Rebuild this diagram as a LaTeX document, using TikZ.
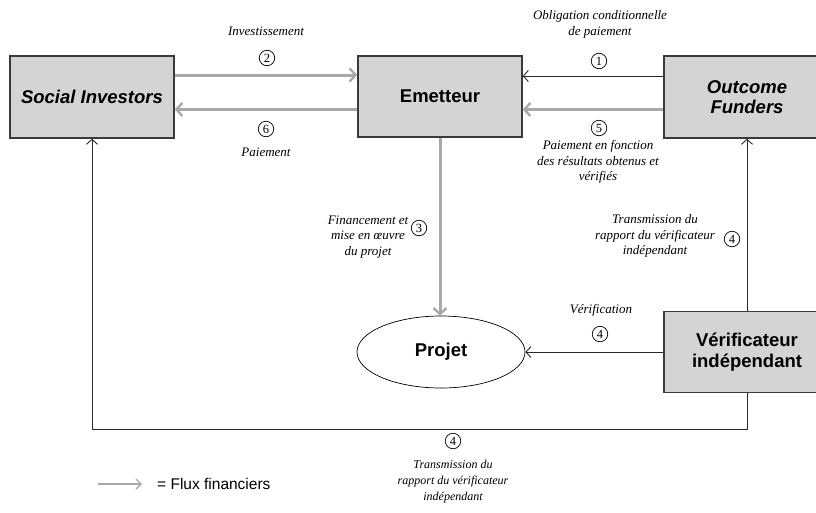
\documentclass[tikz,border=0pt]{standalone}
\usepackage{fontspec}
\setmainfont{Liberation Serif}
\newfontfamily\boxfont{Liberation Sans}
\usetikzlibrary{arrows.meta,shapes.geometric}

\definecolor{boxfill}{HTML}{D4D4D4}
\definecolor{boxline}{HTML}{3A3A3A}
\definecolor{flux}{HTML}{A9A9A9}

\tikzset{
  actor/.style={rectangle, draw=boxline, line width=1.4pt, fill=boxfill,
    minimum width=164pt, minimum height=82pt, align=center, inner sep=0pt,
    font=\boxfont\bfseries\fontsize{18.5}{21}\selectfont},
  actorit/.style={actor, font=\boxfont\bfseries\itshape\fontsize{18.5}{20}\selectfont},
  money/.style={draw=flux, line width=3pt, -{Straight Barb[length=6pt,width=13pt,line width=2.4pt]}},
  info/.style={draw=black!85, line width=0.9pt, -{Straight Barb[length=5pt,width=11pt,line width=0.9pt]}},
  lbl/.style={align=center, inner sep=0pt, font=\itshape\fontsize{13}{15.5}\selectfont},
  lblnarrow/.style={align=center, inner sep=0pt, font=\itshape\fontsize{12}{16}\selectfont},
  circnum/.style={circle, draw, line width=0.7pt, inner sep=0pt, minimum size=15.5pt,
    font=\fontsize{12.5}{12.5}\selectfont},
}

\begin{document}
\begin{tikzpicture}[x=1pt, y=-1pt]
\useasboundingbox (0,0) rectangle (816,512);

% actors
\node[actorit] (si) at (92,97) {Social Investors};
\node[actor, minimum height=81pt] (em) at (440,96.5) {Emetteur};
\node[actorit, minimum width=166pt] (of) at (747,97) {Outcome\\Funders};
\node[actor, minimum width=166pt, minimum height=81pt] (vi) at (747,352) {Vérificateur\\indépendant};
\node[ellipse, draw, line width=0.7pt, minimum width=168pt, minimum height=72pt,
  font=\boxfont\bfseries\fontsize{18.5}{21}\selectfont] (pr) at (441,352) {Projet};

% financial flows
\draw[money] ([yshift=22pt]si.east) -- ([yshift=22pt]si.east -| em.west);
\draw[money] ([yshift=-13pt]em.west) -- ([yshift=-13pt]em.west -| si.east);
\draw[money] ([yshift=-12.5pt]of.west) -- ([yshift=-12.5pt]of.west -| em.east);
\draw[money] (em.south) -- (em.south |- pr.north);

% other flows
\draw[info] ([yshift=21pt]of.west) -- ([yshift=21pt]of.west -| em.east);
\draw[info] (vi.west) -- (pr.east);
\draw[info] (vi.north) -- (of.south);
\coordinate (loopr) at ([yshift=-36pt]vi.south);
\draw[info] (vi.south) -- (loopr) -| (si.south);

% labels
\node[lbl] (t2) at (266,31) {Investissement};
\node[circnum] (n2) at (267,58) {2};
\node[circnum] (n6) at (266,129) {6};
\node[lbl] (t6) at (266,152) {Paiement};

\node[lbl] (t1) at (600,24.5) {Obligation conditionnelle\\de paiement};
\node[circnum] (n1) at (599,61) {1};
\node[circnum] (n5) at (599,128) {5};
\node[lbl] (t5) at (598,162) {Paiement en fonction\\des résultats obtenus et\\vérifiés};

\node[lbl] (t3) at (368,237) {Financement et\\mise en œuvre\\du projet};
\node[circnum] (n3) at (419,228) {3};

\node[lbl] (t4a) at (655,236) {Transmission du\\rapport du vérificateur\\indépendant};
\node[circnum] (n4a) at (732,239) {4};

\node[lbl] (t4b) at (601,310) {Vérification};
\node[circnum] (n4b) at (600,334) {4};

\node[circnum] (n4c) at (453,441) {4};
\node[lblnarrow] (t4c) at (453,482) {Transmission du\\rapport du vérificateur\\indépendant};

% legend
\coordinate (lega) at (98,484);
\coordinate (legb) at (142,484);
\draw[draw=flux, line width=1.8pt, -{Straight Barb[length=5pt,width=10pt,line width=1.4pt]}] (lega) -- (legb);
\node[anchor=west, inner sep=0pt, font=\boxfont\fontsize{15.5}{15.5}\selectfont] (leg) at (157,484) {= Flux financiers};
\end{tikzpicture}
\end{document}
